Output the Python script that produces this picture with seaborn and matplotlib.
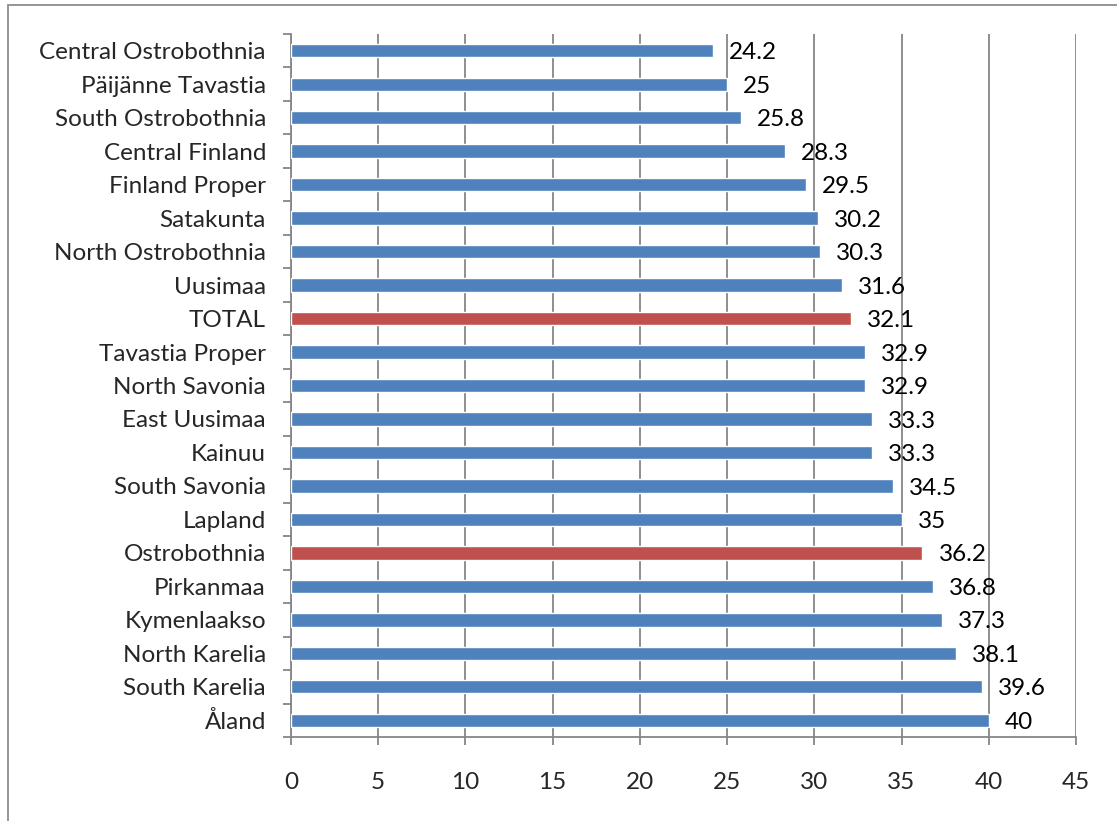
import matplotlib
matplotlib.use("Agg")
import matplotlib.pyplot as plt
import seaborn as sns
import pandas as pd
from matplotlib.patches import Rectangle

regions = ["Central Ostrobothnia", "Päijänne Tavastia", "South Ostrobothnia",
           "Central Finland", "Finland Proper", "Satakunta", "North Ostrobothnia",
           "Uusimaa", "TOTAL", "Tavastia Proper", "North Savonia", "East Uusimaa",
           "Kainuu", "South Savonia", "Lapland", "Ostrobothnia", "Pirkanmaa",
           "Kymenlaakso", "North Karelia", "South Karelia", "Åland"]
values = [24.2, 25, 25.8, 28.3, 29.5, 30.2, 30.3, 31.6, 32.1, 32.9, 32.9, 33.3,
          33.3, 34.5, 35, 36.2, 36.8, 37.3, 38.1, 39.6, 40]
highlighted = ["TOTAL", "Ostrobothnia"]
x_ticks = [0, 5, 10, 15, 20, 25, 30, 35, 40, 45]

BLUE = "#4F81BD"
RED = "#C0504D"
GRID = "#868686"
FS = 17.5

sns.set_theme(style="white")
plt.rcParams["font.family"] = ["Lato", "DejaVu Sans"]

df = pd.DataFrame({"region": regions, "value": values})
palette = {r: (RED if r in highlighted else BLUE) for r in regions}

fig = plt.figure(figsize=(11.17, 8.21), dpi=100)
ax = fig.add_axes([0.2605, 0.1023, 0.7028, 0.8563])

sns.barplot(data=df, y="region", x="value", hue="region", order=regions,
            palette=palette, orient="h", width=0.4, legend=False, ax=ax,
            saturation=1, zorder=3)

ax.set_xlim(0, 45)
ax.set_ylim(len(regions) - 0.5, -0.5)
ax.set_xticks(x_ticks)
ax.set_xticklabels([str(t) for t in x_ticks])
ax.set_xlabel("")
ax.set_ylabel("")

ax.grid(axis="x", color=GRID, linewidth=1.3, zorder=0)
ax.grid(axis="y", visible=False)
ax.set_axisbelow(True)

for side in ["top", "right"]:
    ax.spines[side].set_visible(False)
for side in ["left", "bottom"]:
    ax.spines[side].set_color(GRID)
    ax.spines[side].set_linewidth(1.3)

# category ticks sit between the bars
ax.set_yticks([i - 0.5 for i in range(len(regions) + 1)], minor=True)
ax.tick_params(axis="y", which="major", length=0, pad=18, labelsize=FS)
ax.tick_params(axis="y", which="minor", left=True, length=6, width=1.3, color=GRID)
ax.tick_params(axis="x", which="major", bottom=True, length=6, width=1.3,
               color=GRID, pad=19, labelsize=FS)

for i, (r, v) in enumerate(zip(regions, values)):
    ax.annotate(f"{v:g}", xy=(v, i), xytext=(11.5, -1.5), textcoords="offset points",
                ha="left", va="center", fontsize=FS, color="black", zorder=4)

# chart area frame
fig.patches.append(Rectangle((8 / 1117, -0.05), 1.2, 1 - 5 / 821 + 0.05,
                             transform=fig.transFigure, fill=False,
                             edgecolor="#8C8C8C", linewidth=1.3))

fig.savefig("out.png", dpi=100)
